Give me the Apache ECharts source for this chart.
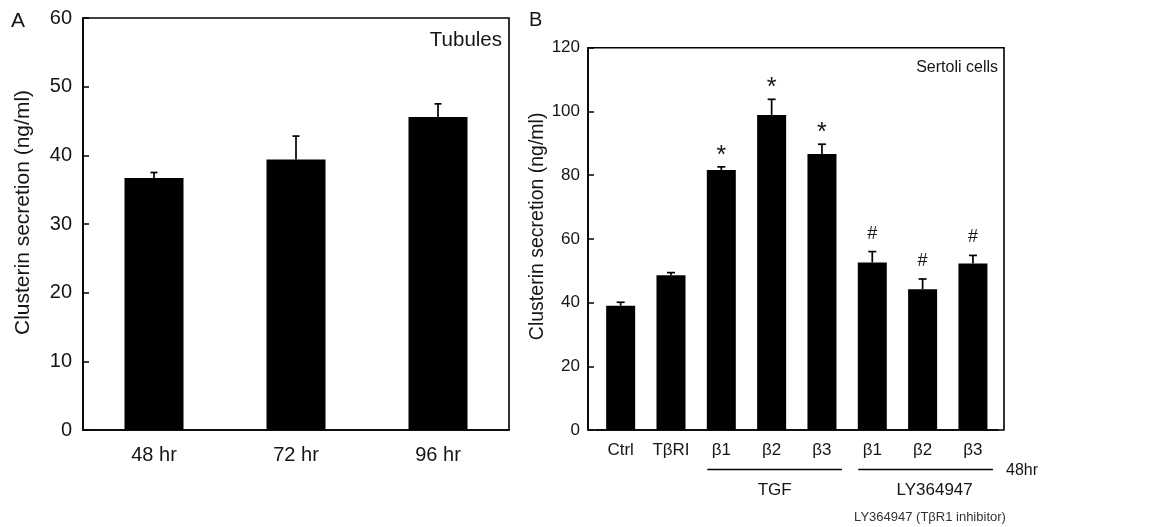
<!DOCTYPE html>
<html>
<head>
<meta charset="utf-8">
<script src="https://cdn.jsdelivr.net/npm/echarts@6/dist/echarts.min.js"></script>
<style>
html, body { margin: 0; padding: 0; background: #fff; }
#chart { width: 1157px; height: 527px; }
</style>
</head>
<body>
<div id="chart"></div>
<script>
// panel A - tubules
var catsA = ['48 hr', '72 hr', '96 hr'];
var meanA = [36.7, 39.4, 45.6];
var errA = [0.8, 3.4, 1.9];

// panel B - sertoli cells (48hr)
var catsB = ['Ctrl', 'TβRI', 'β1', 'β2', 'β3', 'β1', 'β2', 'β3'];
var meanB = [39.0, 48.6, 81.6, 98.9, 86.6, 52.6, 44.2, 52.3];
var errB = [1.1, 0.8, 1.0, 4.9, 3.1, 3.4, 3.2, 2.5];
var markB = ['', '', '*', '*', '*', '#', '#', '#'];
var groupsB = [
    { name: 'TGF', from: 2, to: 4 },
    { name: 'LY364947', from: 5, to: 7 }
];

var FONT = '"Liberation Sans", Arial, Helvetica, sans-serif';
var INK = '#151515';

// error bar (upper only) + significance mark
function errorItem(means, errs, marks, capW) {
    return function (params, api) {
        var i = api.value(0);
        var base = api.coord([i, means[i]]);
        var top = api.coord([i, means[i] + errs[i]]);
        var st = { stroke: '#000', lineWidth: 1.7 };
        var kids = [
            { type: 'line', shape: { x1: base[0], y1: base[1], x2: top[0], y2: top[1] }, style: st },
            { type: 'line', shape: { x1: top[0] - capW / 2, y1: top[1], x2: top[0] + capW / 2, y2: top[1] }, style: st }
        ];
        if (marks && marks[i]) {
            var star = marks[i] === '*';
            kids.push({
                type: 'text',
                x: top[0],
                y: top[1] - (star ? 11 : 18),
                style: {
                    text: marks[i],
                    fill: INK,
                    font: (star ? '25px ' : '18px ') + FONT,
                    align: 'center',
                    verticalAlign: 'middle'
                }
            });
        }
        return { type: 'group', children: kids };
    };
}

function yAxisCfg(grid, max, interval, opt) {
    return {
        type: 'value', gridIndex: grid, min: 0, max: max, interval: interval, offset: opt.offset,
        name: 'Clusterin secretion (ng/ml)', nameLocation: 'middle', nameGap: opt.gap,
        nameTextStyle: { fontFamily: FONT, fontSize: opt.nameSize, color: INK, padding: [0, 0, 0, opt.shift] },
        axisLine: { show: true, lineStyle: { color: '#000', width: 1.6 } },
        axisTick: { show: true, inside: true, length: 6, lineStyle: { color: '#000', width: 1.5 } },
        axisLabel: { fontFamily: FONT, fontSize: opt.labelSize, color: INK, margin: opt.margin },
        splitLine: { show: false }
    };
}

function xAxisCfg(grid, cats, size, margin) {
    return {
        type: 'category', gridIndex: grid, data: cats,
        axisLine: { show: true, lineStyle: { color: '#000', width: 1.6 } },
        axisTick: { show: false },
        axisLabel: { fontFamily: FONT, fontSize: size, color: INK, margin: margin, interval: 0 }
    };
}

var chart = echarts.init(document.getElementById('chart'));

var option = {
    animation: false,
    backgroundColor: '#fff',
    grid: [
        { left: 83, top: 18, width: 426, height: 412, show: true, borderColor: '#000', borderWidth: 1.6 },
        { left: 595.5, top: 47.7, width: 402.6, height: 382.3 }
    ],
    xAxis: [xAxisCfg(0, catsA, 20, 15), xAxisCfg(1, catsB, 17, 12)],
    yAxis: [
        yAxisCfg(0, 60, 10, { offset: 0, gap: 49, nameSize: 21, labelSize: 20, margin: 11, shift: 23 }),
        yAxisCfg(1, 120, 20, { offset: 7.5, gap: 32, nameSize: 19.5, labelSize: 17, margin: 8, shift: 25 })
    ],
    series: [
        { type: 'bar', xAxisIndex: 0, yAxisIndex: 0, data: meanA, barWidth: 59,
          itemStyle: { color: '#000' } },
        { type: 'custom', xAxisIndex: 0, yAxisIndex: 0, z: 3,
          data: meanA.map(function (v, i) { return [i, v]; }),
          renderItem: errorItem(meanA, errA, null, 7) },
        { type: 'bar', xAxisIndex: 1, yAxisIndex: 1, data: meanB, barWidth: 29,
          itemStyle: { color: '#000' } },
        { type: 'custom', xAxisIndex: 1, yAxisIndex: 1, z: 3,
          data: meanB.map(function (v, i) { return [i, v]; }),
          renderItem: errorItem(meanB, errB, markB, 8) }
    ]
};
chart.setOption(option);

// annotations: panel letters, titles, group brackets
var txt = function (x, y, s, size, align, color) {
    return { type: 'text', x: x, y: y, z: 100,
             style: { text: s, font: size + 'px ' + FONT, fill: color || INK,
                      align: align || 'left', verticalAlign: 'middle' } };
};
var gfx = [
    txt(11, 21, 'A', 21),
    txt(529, 20, 'B', 20),
    txt(502, 40, 'Tubules', 20.5, 'right'),
    txt(998, 68, 'Sertoli cells', 16, 'right'),
    txt(1006, 471, '48hr', 16),
    txt(930, 517, 'LY364947 (TβR1 inhibitor)', 13, 'center', '#333'),
    { type: 'rect', z: 100, shape: { x: 588, y: 47.7, width: 416, height: 382.3 },
      style: { fill: 'none', stroke: '#000', lineWidth: 1.6 } }
];
var labelShift = [0, 9];
groupsB.forEach(function (g, k) {
    var x1 = chart.convertToPixel({ xAxisIndex: 1 }, g.from) - 14;
    var x2 = chart.convertToPixel({ xAxisIndex: 1 }, g.to) + 20;
    gfx.push({ type: 'line', z: 100, shape: { x1: x1, y1: 469.5, x2: x2, y2: 469.5 },
               style: { stroke: '#000', lineWidth: 1.7 } });
    gfx.push(txt((x1 + x2) / 2 + labelShift[k], 490, g.name, 17, 'center'));
});
chart.setOption({ graphic: gfx });
</script>
</body>
</html>
